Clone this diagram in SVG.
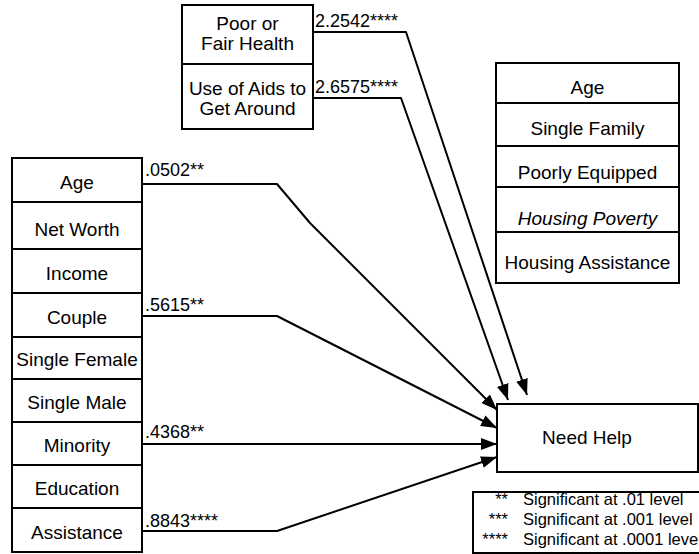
<svg xmlns="http://www.w3.org/2000/svg" width="699" height="554" viewBox="0 0 699 554">
<style>
.box{fill:#fff;stroke:#000;stroke-width:2}
.div{stroke:#000;stroke-width:2}
.t{font-family:"Liberation Sans",Arial,sans-serif;font-size:19px;fill:#000;text-anchor:middle}
.c{font-family:"Liberation Sans",Arial,sans-serif;font-size:18px;fill:#000}
.l{font-family:"Liberation Sans",Arial,sans-serif;font-size:16.5px;fill:#000}
.e{fill:none;stroke:#000;stroke-width:2;stroke-linejoin:round}
</style>
<defs>
<marker id="ah" viewBox="0 0 16 12" refX="16" refY="6" markerWidth="16" markerHeight="12" markerUnits="userSpaceOnUse" orient="auto">
<path d="M0,0 L16,6 L0,12 z" fill="#000"/>
</marker>
</defs>
<rect width="699" height="554" fill="#fff"/>

<g id="health">
<rect class="box" x="182" y="5" width="131" height="124"/>
<line class="div" x1="182" y1="64" x2="313" y2="64"/>
<text class="t" x="247.5" y="30">Poor or</text>
<text class="t" x="247.5" y="50">Fair Health</text>
<text class="t" x="247.5" y="95">Use of Aids to</text>
<text class="t" x="247.5" y="115">Get Around</text>
</g>

<g id="predictors">
<rect class="box" x="12" y="158" width="130" height="394"/>
<line class="div" x1="12" y1="202" x2="142" y2="202"/>
<line class="div" x1="12" y1="249" x2="142" y2="249"/>
<line class="div" x1="12" y1="293" x2="142" y2="293"/>
<line class="div" x1="12" y1="337" x2="142" y2="337"/>
<line class="div" x1="12" y1="379" x2="142" y2="379"/>
<line class="div" x1="12" y1="422" x2="142" y2="422"/>
<line class="div" x1="12" y1="465" x2="142" y2="465"/>
<line class="div" x1="12" y1="508" x2="142" y2="508"/>
<text class="t" x="77" y="189">Age</text>
<text class="t" x="77" y="236">Net Worth</text>
<text class="t" x="77" y="280">Income</text>
<text class="t" x="77" y="324">Couple</text>
<text class="t" x="77" y="366">Single Female</text>
<text class="t" x="77" y="409">Single Male</text>
<text class="t" x="77" y="452">Minority</text>
<text class="t" x="77" y="495">Education</text>
<text class="t" x="77" y="539">Assistance</text>
</g>

<g id="controls">
<rect class="box" x="496" y="63" width="183" height="220"/>
<line class="div" x1="496" y1="103" x2="679" y2="103"/>
<line class="div" x1="496" y1="146" x2="679" y2="146"/>
<line class="div" x1="496" y1="187" x2="679" y2="187"/>
<line class="div" x1="496" y1="232" x2="679" y2="232"/>
<text class="t" x="587.5" y="94">Age</text>
<text class="t" x="587.5" y="135">Single Family</text>
<text class="t" x="587.5" y="179">Poorly Equipped</text>
<text class="t" x="587.5" y="225" font-style="italic">Housing Poverty</text>
<text class="t" x="587.5" y="269">Housing Assistance</text>
</g>

<g id="needhelp">
<rect class="box" x="497" y="404" width="201" height="68"/>
<text class="t" x="587" y="444">Need Help</text>
</g>

<g id="connectors">
<path class="e" d="M313,32 H406 L527,395" marker-end="url(#ah)"/>
<path class="e" d="M313,98 H401 L508,400" marker-end="url(#ah)"/>
<path class="e" d="M142,184 H277 L310,223 L497,410" marker-end="url(#ah)"/>
<path class="e" d="M142,316 H277 L497,428" marker-end="url(#ah)"/>
<path class="e" d="M142,444 H497" marker-end="url(#ah)"/>
<path class="e" d="M142,531 H277 L497,457" marker-end="url(#ah)"/>
<text class="c" x="315" y="27">2.2542****</text>
<text class="c" x="315" y="93">2.6575****</text>
<text class="c" x="145" y="176">.0502**</text>
<text class="c" x="145" y="311">.5615**</text>
<text class="c" x="145" y="438">.4368**</text>
<text class="c" x="145" y="527">.8843****</text>
</g>

<g id="legend">
<rect class="box" x="473" y="492" width="240" height="61"/>
<text class="l" x="508" y="505" text-anchor="end">**</text>
<text class="l" x="508" y="525" text-anchor="end">***</text>
<text class="l" x="508" y="545" text-anchor="end">****</text>
<text class="l" x="523" y="505">Significant at .01 level</text>
<text class="l" x="523" y="525">Significant at .001 level</text>
<text class="l" x="523" y="545">Significant at .0001 level</text>
</g>
</svg>
